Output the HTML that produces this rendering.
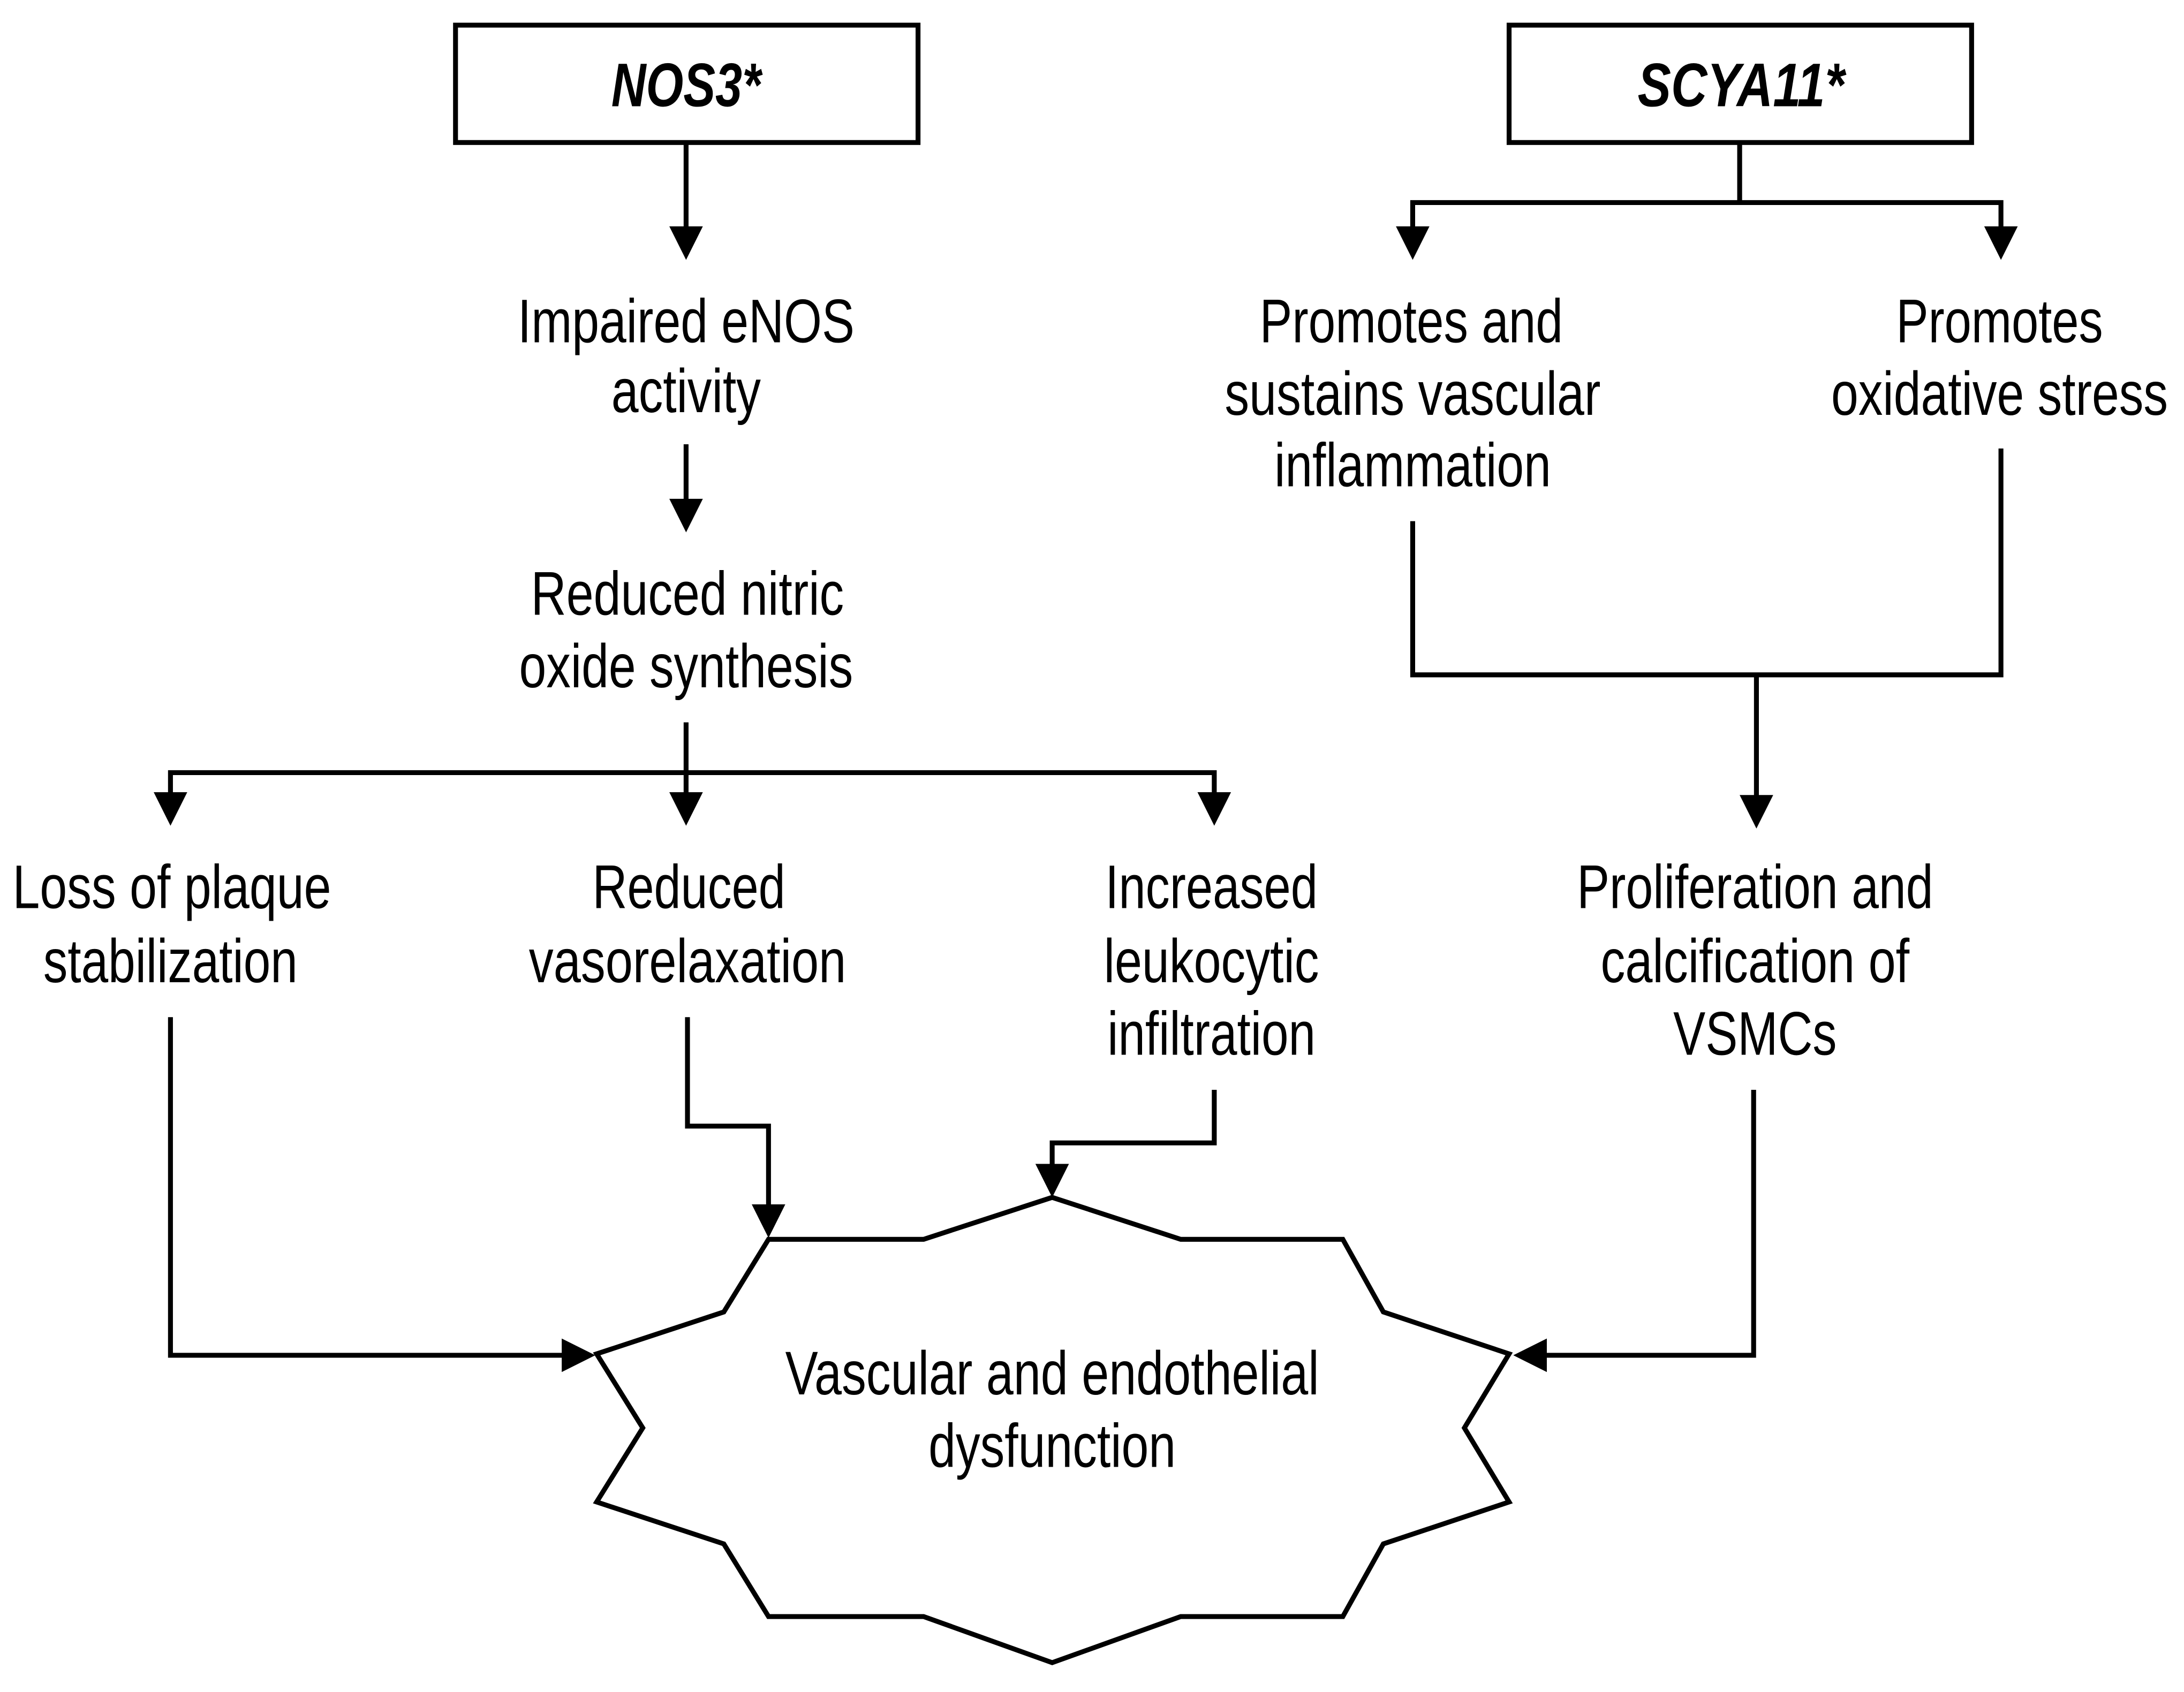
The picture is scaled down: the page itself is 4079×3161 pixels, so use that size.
<!DOCTYPE html>
<html><head><meta charset="utf-8"><style>
html,body{margin:0;padding:0;background:#fff;}
svg{display:block;}
text{font-family:"Liberation Sans",Arial,sans-serif;font-size:44px;fill:#000;text-anchor:middle;}
</style></head><body>
<svg width="4079" height="3161" viewBox="0 0 1563 1211" preserveAspectRatio="none" xmlns="http://www.w3.org/2000/svg">
<defs>
<marker id="a" markerUnits="userSpaceOnUse" markerWidth="24" markerHeight="26" refX="12" refY="24" orient="auto-start-reverse" viewBox="0 0 24 26">
</marker>
</defs>
<g fill="none" stroke="#000" stroke-width="3.5">
<rect x="326" y="18" width="331" height="84"/>
<rect x="1080" y="18" width="331" height="84"/>
<polyline points="491,102 491,165"/>
<polyline points="491,318 491,360"/>
<polyline points="491,517 491,553"/>
<polyline points="122,570 122,553 869,553 869,570"/>
<polyline points="491,553 491,570"/>
<polyline points="122,728 122,970 405,970"/>
<polyline points="492,728 492,806 550,806 550,866"/>
<polyline points="869,780 869,818 753,818 753,837"/>
<polyline points="1245,102 1245,145"/>
<polyline points="1011,165 1011,145 1432,145 1432,165"/>
<polyline points="1011,373 1011,483 1432,483 1432,321"/>
<polyline points="1257,483 1257,572"/>
<polyline points="1255,780 1255,970 1104,970"/>
<polygon points="753,857 845,887 961,887 990,939 1080,969 1048,1022 1080,1075 990,1105 961,1157 845,1157 753,1190 661,1157 550,1157 518,1105 427,1075 460,1022 427,969 518,939 550,887 661,887"/>
</g>
<g fill="#000">
<polygon points="479,162 503,162 491,186"/>
<polygon points="479,357 503,357 491,381"/>
<polygon points="110,567 134,567 122,591"/>
<polygon points="479,567 503,567 491,591"/>
<polygon points="857,567 881,567 869,591"/>
<polygon points="538,862 562,862 550,886"/>
<polygon points="741,833 765,833 753,857"/>
<polygon points="999,162 1023,162 1011,186"/>
<polygon points="1420,162 1444,162 1432,186"/>
<polygon points="1245,569 1269,569 1257,593"/>
<polygon points="402,958 402,982 426,970"/>
<polygon points="1107,958 1107,982 1083,970"/>
</g>
<text x="491" y="76" font-weight="bold" font-style="italic" textLength="107" lengthAdjust="spacingAndGlyphs">NOS3*</text>
<text x="1246" y="76" font-weight="bold" font-style="italic" textLength="148" lengthAdjust="spacingAndGlyphs">SCYA11*</text>
<text x="491" y="245" textLength="241" lengthAdjust="spacingAndGlyphs">Impaired eNOS</text>
<text x="491" y="295" textLength="107" lengthAdjust="spacingAndGlyphs">activity</text>
<text x="492" y="440" textLength="224" lengthAdjust="spacingAndGlyphs">Reduced nitric</text>
<text x="491" y="492" textLength="239" lengthAdjust="spacingAndGlyphs">oxide synthesis</text>
<text x="123" y="650" textLength="228" lengthAdjust="spacingAndGlyphs">Loss of plaque</text>
<text x="122" y="703" textLength="182" lengthAdjust="spacingAndGlyphs">stabilization</text>
<text x="493" y="650" textLength="138" lengthAdjust="spacingAndGlyphs">Reduced</text>
<text x="492" y="703" textLength="227" lengthAdjust="spacingAndGlyphs">vasorelaxation</text>
<text x="867" y="650" textLength="152" lengthAdjust="spacingAndGlyphs">Increased</text>
<text x="867" y="703" textLength="154" lengthAdjust="spacingAndGlyphs">leukocytic</text>
<text x="867" y="755" textLength="149" lengthAdjust="spacingAndGlyphs">infiltration</text>
<text x="1010" y="245" textLength="217" lengthAdjust="spacingAndGlyphs">Promotes and</text>
<text x="1011" y="297" textLength="269" lengthAdjust="spacingAndGlyphs">sustains vascular</text>
<text x="1011" y="348" textLength="198" lengthAdjust="spacingAndGlyphs">inflammation</text>
<text x="1431" y="245" textLength="148" lengthAdjust="spacingAndGlyphs">Promotes</text>
<text x="1431" y="297" textLength="241" lengthAdjust="spacingAndGlyphs">oxidative stress</text>
<text x="1256" y="650" textLength="255" lengthAdjust="spacingAndGlyphs">Proliferation and</text>
<text x="1256" y="703" textLength="221" lengthAdjust="spacingAndGlyphs">calcification of</text>
<text x="1256" y="755" textLength="117" lengthAdjust="spacingAndGlyphs">VSMCs</text>
<text x="753" y="998" textLength="382" lengthAdjust="spacingAndGlyphs">Vascular and endothelial</text>
<text x="753" y="1050" textLength="177" lengthAdjust="spacingAndGlyphs">dysfunction</text>
</svg>
</body></html>
